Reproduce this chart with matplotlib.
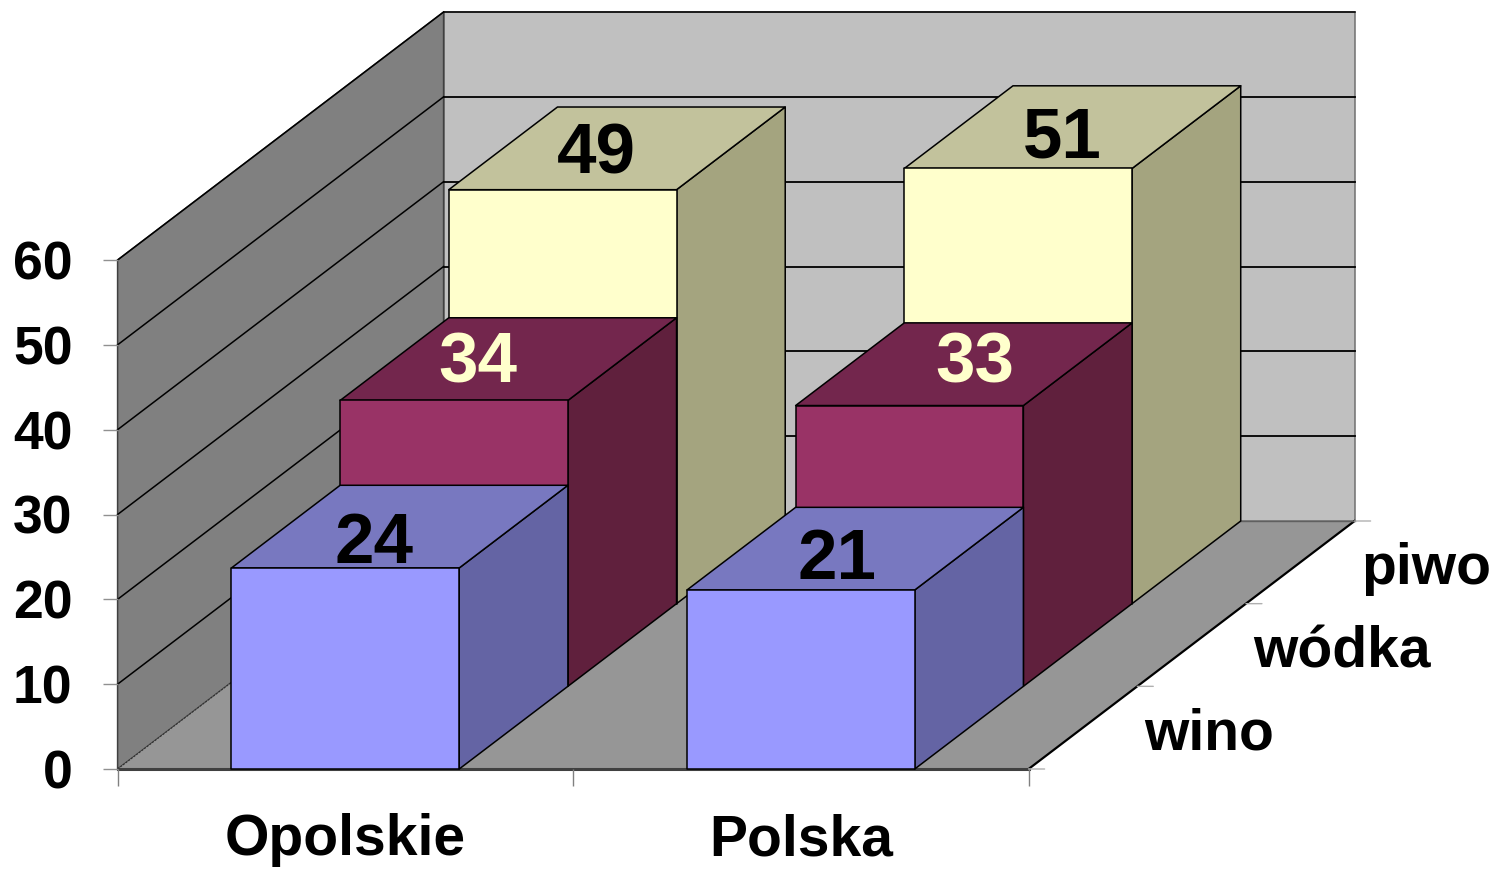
import matplotlib
matplotlib.use("Agg")
import matplotlib.pyplot as plt

categories = ["Opolskie", "Polska"]
series_names = ["wino", "wódka", "piwo"]
wino = [23.7, 21.1]
wodka = [33.7, 33.1]
piwo = [48.8, 51.3]
y_ticks = [0, 10, 20, 30, 40, 50, 60]

series = [wino, wodka, piwo]
face_colors = ["#9999FF", "#993366", "#FFFFCC"]
top_colors = ["#7878C0", "#73264D", "#C2C29C"]
side_colors = ["#6464A4", "#60203D", "#A4A47F"]
label_colors = ["black", "#FFFFCC", "black"]
# manual label shifts in pixels, [series][category]
label_shift = [[(-26, -18), (-18, -12)], [(-31, -5), (11, 0)], [(-21, -7), (-10, -12)]]
name_shift = [(126, -7), (150, -7), (126, -7)]

W, H = 1497, 869
plt.rcParams['font.family'] = ['Liberation Sans', 'DejaVu Sans']
plt.rcParams['font.weight'] = 'bold'

fig = plt.figure(figsize=(W / 100, H / 100), dpi=100)
ax = fig.add_axes([117.6 / W, (H - 769) / H, 911 / W, 509 / H])
ax.set_xlim(0, 2)
ax.set_ylim(0, 60)
ax.patch.set_visible(False)
for s in ax.spines.values():
    s.set_visible(False)

# oblique depth: one series step moves the point this far in data units
step_x = (326 / 3) / 455.5
step_y = (248 / 3) / (509 / 60)
n_depth = len(series)
n_cat = len(categories)
y_max = y_ticks[-1]


def proj(x, v, d):
    return x + d * step_x, v + d * step_y


def face(points, color, ec="black", lw=1.1, z=1):
    xs, ys = zip(*[proj(*p) for p in points])
    ax.fill(xs, ys, facecolor=color, edgecolor=ec, linewidth=lw, clip_on=False, zorder=z, joinstyle="round")


def line(p0, p1, color="black", lw=1.1, z=2, ls="-"):
    a, b = proj(*p0), proj(*p1)
    ax.plot([a[0], b[0]], [a[1], b[1]], color=color, linewidth=lw, linestyle=ls, clip_on=False, zorder=z)


# walls and floor
face([(0, 0, n_depth), (n_cat, 0, n_depth), (n_cat, y_max, n_depth), (0, y_max, n_depth)], "#C0C0C0", ec="#707070", z=1)
face([(0, 0, 0), (0, 0, n_depth), (0, y_max, n_depth), (0, y_max, 0)], "#808080", ec="#404040", z=1)
face([(0, 0, 0), (n_cat, 0, 0), (n_cat, 0, n_depth), (0, 0, n_depth)], "#969696", ec="none", z=1.2)
line((0, y_max, n_depth), (n_cat, y_max, n_depth), z=1.5)
line((0, y_max, 0), (0, y_max, n_depth), z=1.5)
line((n_cat, 0, 0), (n_cat, 0, n_depth), lw=1.6, z=1.5)
line((0, 0, 0), (n_cat, 0, 0), color="#404040", lw=2.2, z=1.5)
line((0, 0, 0), (0, 0, n_depth), color="#303030", lw=0.8, ls=(0, (2, 1)), z=1.5)
line((0, 0, n_depth), (n_cat, 0, n_depth), color="#606060", lw=1, z=1.5)

for v in y_ticks[1:-1]:
    line((0, v, n_depth), (n_cat, v, n_depth), lw=1.3, z=1.5)
    line((0, v, 0), (0, v, n_depth), lw=1.1, z=1.5)

# bars, back row first so the front ones cover them
z = 3
for d in range(n_depth - 1, -1, -1):
    for c in range(n_cat):
        v = series[d][c]
        x0, x1 = c + 0.25, c + 0.75
        face([(x1, 0, d), (x1, 0, d + 1), (x1, v, d + 1), (x1, v, d)], side_colors[d], z=z)
        face([(x0, v, d), (x1, v, d), (x1, v, d + 1), (x0, v, d + 1)], top_colors[d], z=z)
        face([(x0, 0, d), (x1, 0, d), (x1, v, d), (x0, v, d)], face_colors[d], z=z)
        ax.annotate(f"{v:.0f}", xy=proj((x0 + x1) / 2, v, d + 0.5), xytext=label_shift[d][c],
                    textcoords="offset pixels", ha="center", va="center", fontsize=51,
                    fontweight="bold", color=label_colors[d], zorder=20, annotation_clip=False)
    z += 1

# axes ticks
ax.set_yticks(y_ticks)
ax.set_yticklabels([str(v) for v in y_ticks])
ax.tick_params(axis="y", length=11, width=1, color="#909090", pad=21.5, labelsize=38.5)
ax.set_xticks(range(n_cat + 1))
ax.set_xticklabels([])
ax.tick_params(axis="x", which="major", length=12, width=1, color="#808080")
ax.set_xticks([c + 0.5 for c in range(n_cat)], minor=True)
ax.set_xticklabels(categories, minor=True, fontsize=41, fontweight="bold")
ax.tick_params(axis="x", which="minor", length=0, pad=32)

# depth axis ticks and names on the right floor edge
for d in range(n_depth + 1):
    x, y = proj(n_cat, 0, d)
    ax.annotate("", xy=(x, y), xytext=(16, 0), textcoords="offset pixels",
                arrowprops=dict(arrowstyle="-", color="#B0B0B0", lw=1, shrinkA=0, shrinkB=0), annotation_clip=False)
for d, name in enumerate(series_names):
    ax.annotate(name, xy=proj(n_cat, 0, d + 0.5), xytext=name_shift[d], textcoords="offset pixels",
                ha="center", va="center", fontsize=41, fontweight="bold", annotation_clip=False)

fig.savefig("out.png", dpi=100)
